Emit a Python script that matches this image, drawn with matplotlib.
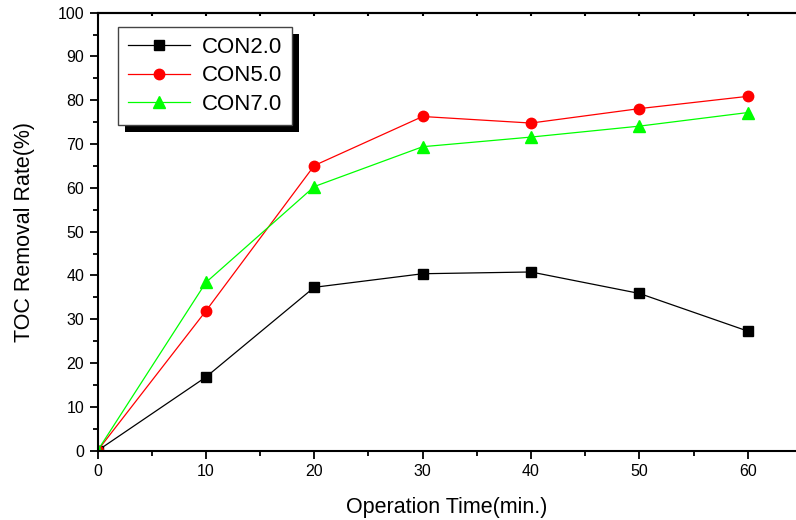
import matplotlib
matplotlib.use("Agg")
import matplotlib.pyplot as plt
from matplotlib.patches import Rectangle
from matplotlib.ticker import MultipleLocator

plt.rcParams["font.family"] = ["Liberation Sans", "DejaVu Sans"]

time_min = [0, 10, 20, 30, 40, 50, 60]
con20 = [0, 16.8, 37.3, 40.4, 40.8, 35.9, 27.3]
con50 = [0, 31.9, 65.1, 76.3, 74.8, 78.1, 80.9]
con70 = [0, 38.4, 60.3, 69.4, 71.6, 74.1, 77.2]


def main():
    fig = plt.figure(figsize=(7.96, 5.20), dpi=100)
    ax = fig.add_axes([0.1225, 0.1333, 0.8775, 0.8423])

    ax.plot(time_min, con20, color="black", lw=0.9, marker="s", ms=7, label="CON2.0")
    ax.plot(time_min, con50, color="#ff0000", lw=0.9, marker="o", ms=7.5, label="CON5.0")
    ax.plot(time_min, con70, color="#00ff00", lw=0.9, marker="^", ms=8.5, label="CON7.0")

    ax.set_xlim(0, 64.45)
    ax.set_ylim(0, 100)
    ax.xaxis.set_major_locator(MultipleLocator(10))
    ax.xaxis.set_minor_locator(MultipleLocator(5))
    ax.yaxis.set_major_locator(MultipleLocator(10))
    ax.yaxis.set_minor_locator(MultipleLocator(5))
    ax.tick_params(which="major", direction="out", length=6, width=1.3, labelsize=11.5)
    ax.tick_params(which="minor", direction="out", length=3.5, width=1.3)
    for s in ("left", "bottom", "top"):
        ax.spines[s].set_linewidth(1.5)
    ax.spines["right"].set_visible(False)

    # short inward ticks along the top edge
    top = ax.secondary_xaxis("top")
    top.xaxis.set_major_locator(MultipleLocator(5))
    top.tick_params(direction="in", length=2.5, width=1.5, labeltop=False)
    top.spines["top"].set_linewidth(1.5)

    ax.set_xlabel("Operation Time(min.)", fontsize=15.5, labelpad=13)
    ax.set_ylabel("TOC Removal Rate(%)", fontsize=15.5, labelpad=16)

    leg = ax.legend(loc="upper left", bbox_to_anchor=(0.029, 0.967), borderaxespad=0,
                    fancybox=False, framealpha=1, edgecolor="#444444", fontsize=16,
                    handlelength=2.8, handletextpad=0.55, labelspacing=0.33,
                    borderpad=0.45)
    leg.get_frame().set_linewidth(1.0)
    leg.set_zorder(5)

    # Origin-style drop shadow behind the legend box
    fig.canvas.draw()
    bb = leg.get_window_extent()
    shadow = Rectangle((bb.x0 + 7, bb.y0 - 7), bb.width, bb.height,
                       transform=None, facecolor="black", edgecolor="none", zorder=4)
    ax.add_artist(shadow)

    fig.savefig("out.png", dpi=100)
    plt.close(fig)


if __name__ == "__main__":
    main()
